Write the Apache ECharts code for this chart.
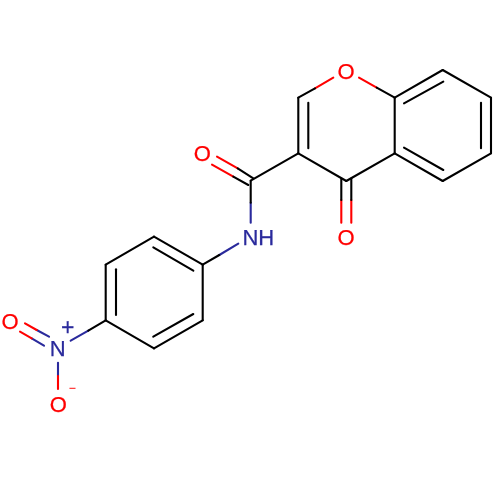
<!DOCTYPE html>
<html><head><meta charset="utf-8">
<style>html,body{margin:0;padding:0;background:#fff}#c{width:500px;height:500px}</style>
<script src="https://cdn.jsdelivr.net/npm/echarts@6/dist/echarts.min.js"></script>
</head><body><div id="c"></div>
<script>
// Each bond segment is [x1, y1, x2, y2] in the picture's data space (0-500, y down).
const blackBonds = [
  [315,88.3,298.3,97.7],[298.3,97.7,298.3,153.3],[308.3,102.7,308.3,148.3],
  [298.3,153.3,346.3,181],[346.3,181,394.7,153.3],[394.7,153.3,394.7,97.7],
  [376.7,87.7,394.7,97.7],[394.7,97.7,442.7,70],[404,103.3,443.3,81.7],
  [442.7,70,491,97.7],[491,97.7,491,153.3],[481,102.7,481,148.3],
  [491,153.3,442.7,181],[442.7,181,394.7,153.3],[404,147.7,443.3,170],
  [341.3,178.5,341.3,200],[351.3,178.5,351.3,200],
  [298.3,153.3,250.7,180.7],[237.7,168.3,253.3,178.3],[233.3,176.7,248.3,185],
  [250.7,180.7,250.7,202.7],[219.3,255,202.7,264.7],
  [202.7,264.7,202.7,320.3],[202.7,320.3,154,348.3],[154,348.3,105.7,320.3],
  [105.7,320.3,105.7,264.7],[105.7,264.7,154,236.7],[154,236.7,202.7,264.7],
  [153.3,247.3,193.3,270.7],[116,269.3,116,315],[153.3,336.7,193.3,314],
  [105.7,320.3,88.3,330.7]
];
const redBonds = [
  [315,88.3,333.3,77.7],[359,77.7,376.7,87.7],
  [341.3,200,341.3,222.7],[351.3,200,351.3,222.7],
  [217,156.7,237.7,168.3],[212,164.7,233.3,176.7],
  [25,323.3,36.7,330],[20,331.7,31.7,338.3],[58,376,58,389]
];
const blueBonds = [
  [250.7,202.7,250.7,222.7],[238.3,243.7,219.3,255],[88.3,330.7,70.7,340.7],
  [36.7,330,49,336.7],[31.7,338.3,44,345.7],[58,362.7,58,376]
];
// Atom labels: [text, x, y]
const redLabels = [['O',346,72.5],['O',346,238.8],['O',202.3,155],['O',10,322.5],['O',58.3,405.8]];
const blueLabels = [['NH',258.3,238.8],['N',57.7,349.8]];
const plusLabels = [['+',67.7,328.5]];
const minusLabels = [['\u2212',72.3,389]];

const RED='#FF0000', BLUE='#2A2A9C', BLACK='#000000';
function bondSeries(data,color){
  return {type:'custom',coordinateSystem:'cartesian2d',silent:true,data:data,
    encode:{x:[0,2],y:[1,3]},
    renderItem:function(p,api){
      const a=api.coord([api.value(0),api.value(1)]),b=api.coord([api.value(2),api.value(3)]);
      return {type:'line',shape:{x1:a[0],y1:a[1],x2:b[0],y2:b[1]},
        style:{stroke:color,lineWidth:2.1,lineCap:'round',fill:null,opacity:1}};
    }};
}
function labelSeries(data,color,size,weight){
  return {type:'scatter',silent:true,symbolSize:0,itemStyle:{opacity:1},
    data:data.map(d=>({value:[d[1],d[2]],name:d[0]})),
    label:{show:true,position:'inside',formatter:'{b}',color:color,opacity:1,
      fontFamily:'Liberation Sans',fontSize:size,textBorderColor:color,textBorderWidth:weight}};
}
const chart=echarts.init(document.getElementById('c'),null,{renderer:'canvas'});
chart.setOption({
  animation:false,backgroundColor:'#ffffff',
  grid:{left:0,right:0,top:0,bottom:0},
  xAxis:{type:'value',min:0,max:500,show:false},
  yAxis:{type:'value',min:0,max:500,inverse:true,show:false},
  series:[
    bondSeries(blueBonds,BLUE),bondSeries(redBonds,RED),bondSeries(blackBonds,BLACK),
    labelSeries(redLabels,RED,22,0.25),labelSeries(blueLabels,BLUE,22,0.25),
    labelSeries(plusLabels,BLUE,23,0.25),
    labelSeries(minusLabels,RED,12,0.1)
  ]
});
</script></body></html>
